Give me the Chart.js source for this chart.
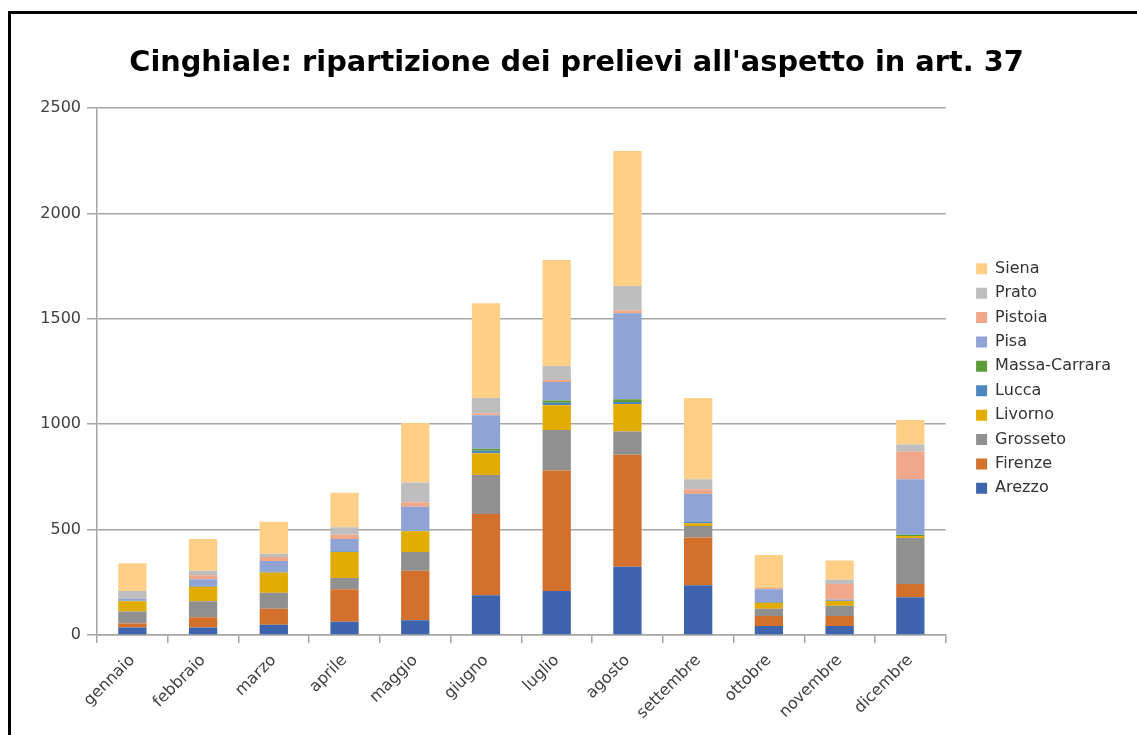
<!DOCTYPE html>
<html>
<head>
<meta charset="utf-8">
<script src="https://cdn.jsdelivr.net/npm/chart.js@4"></script>
<style>
  html, body { margin: 0; padding: 0; background: #fff; overflow: hidden; }
  #wrap { position: absolute; left: 0; top: 0; width: 1137px; height: 735px; }
  #frame { position: absolute; left: 8px; top: 11px; width: 2000px; height: 2000px;
           border-left: 3px solid #000; border-top: 3px solid #000; pointer-events: none; }
</style>
</head>
<body>
<div id="wrap">
  <canvas id="c" width="1137" height="735"></canvas>
  <div id="frame"></div>
</div>
<script>
const title = "Cinghiale: ripartizione dei prelievi all'aspetto in art. 37";
const months = ["gennaio","febbraio","marzo","aprile","maggio","giugno","luglio","agosto","settembre","ottobre","novembre","dicembre"];
const yTicks = [0, 500, 1000, 1500, 2000, 2500];

const arezzo   = [36, 36, 49, 63, 70, 188, 209, 324, 236, 43, 43, 179];
const firenze  = [19, 48, 76, 154, 235, 386, 572, 531, 227, 47, 47, 63];
const grosseto = [57, 76, 76, 53, 89, 185, 192, 111, 54, 35, 49, 218];
const livorno  = [48, 69, 95, 124, 98, 103, 117, 130, 13, 28, 22, 10];
const lucca    = [3, 5, 5, 3, 3, 12, 12, 9, 9, 3, 0, 0];
const massa    = [0, 0, 0, 0, 0, 10, 10, 13, 0, 0, 0, 6];
const pisa     = [10, 30, 50, 58, 114, 158, 88, 408, 130, 61, 8, 263];
const pistoia  = [3, 19, 19, 21, 21, 10, 10, 13, 22, 6, 73, 131];
const prato    = [33, 22, 16, 35, 94, 72, 66, 117, 48, 0, 20, 34];
const siena    = [131, 150, 151, 164, 282, 450, 503, 640, 385, 157, 91, 116];

const seriesNames = ["Arezzo","Firenze","Grosseto","Livorno","Lucca","Massa-Carrara","Pisa","Pistoia","Prato","Siena"];
const seriesData = [arezzo, firenze, grosseto, livorno, lucca, massa, pisa, pistoia, prato, siena];
const seriesColors = ["#3E64AD","#D3702B","#909090","#E2AC00","#4E86C0","#5F9A3A","#8FA4D4","#F0A78A","#BEBEBE","#FFCF88"];

const datasets = seriesNames.map((n, i) => ({
  label: n,
  data: seriesData[i],
  backgroundColor: seriesColors[i],
  borderWidth: 0,
  barPercentage: 0.4,
  categoryPercentage: 1.0
}));

const gridCol = '#A6A6A6';
new Chart(document.getElementById('c'), {
  type: 'bar',
  data: { labels: months, datasets },
  options: {
    responsive: false,
    animation: false,
    layout: { padding: { left: 32, right: 16, top: 0, bottom: 0 } },
    plugins: {
      title: {
        display: true, text: title, color: '#000',
        font: { family: 'DejaVu Sans', size: 28.8, weight: 'bold' },
        padding: { top: 46.5, bottom: 27 }
      },
      legend: {
        position: 'right', reverse: true, fullSize: false, align: 'center',
        title: { display: true, text: '', padding: 2, font: { size: 10, lineHeight: 1 } },
        labels: {
          boxWidth: 11, boxHeight: 11, padding: 8.4, color: '#333',
          font: { family: 'DejaVu Sans', size: 16 }
        }
      },
      tooltip: { enabled: false }
    },
    scales: {
      x: {
        stacked: true,
        grid: { display: true, drawOnChartArea: false, drawTicks: true, tickLength: 8, color: gridCol, lineWidth: 1.5, offset: true },
        border: { display: true, color: gridCol, width: 1.5 },
        ticks: { autoSkip: false, maxRotation: 45, minRotation: 45, padding: 8, color: '#404040',
                 font: { family: 'DejaVu Sans', size: 16 } },
        afterFit: s => { s.height = 100; }
      },
      y: {
        stacked: true, min: yTicks[0], max: yTicks[yTicks.length - 1],
        afterBuildTicks: s => { s.ticks = yTicks.map(v => ({ value: v })); },
        grid: { color: gridCol, lineWidth: 1.5, tickLength: 10 },
        border: { display: true, color: gridCol, width: 1.5 },
        ticks: { padding: 6, color: '#404040', font: { family: 'DejaVu Sans', size: 16 },
                 callback: v => String(v) },
        afterFit: s => { s.width = 65; }
      },
      pad: {
        type: 'linear', position: 'right', display: true,
        grid: { display: false }, border: { display: false }, ticks: { display: false },
        afterFit: s => { s.width = 22; }
      }
    }
  }
});
</script>
</body>
</html>
